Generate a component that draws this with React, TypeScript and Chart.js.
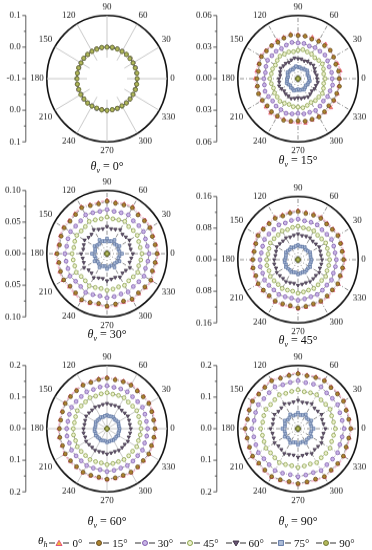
import React, { useEffect, useRef } from 'react';
import { Chart, registerables } from 'chart.js';
Chart.register(...registerables);

const FONT = '"Liberation Serif", "Times New Roman", serif';

// measurement angles (deg)
const ANGLES = [0,10,20,30,40,50,60,70,80,90,100,110,120,130,140,150,160,170,180,190,200,210,220,230,240,250,260,270,280,290,300,310,320,330,340,350];
const SERIES_LABELS = ['0°','15°','30°','45°','60°','75°','90°'];
const PANEL_TITLES = ['0°','15°','30°','45°','60°','90°'];
const R_MIN = [-0.1, 0, 0, 0, 0, 0];
const R_MAX = [0.1, 0.06, 0.1, 0.16, 0.2, 0.2];
const AXIS_P1 = ['0.1','0.0','-0.1','0.0','0.1'];
const AXIS_P2 = ['0.06','0.03','0.00','0.03','0.06'];
const AXIS_P3 = ['0.10','0.05','0.00','0.05','0.10'];
const AXIS_P4 = ['0.16','0.08','0.00','0.08','0.16'];
const AXIS_P5 = ['0.2','0.1','0.0','0.1','0.2'];
const AXIS_P6 = ['0.2','0.1','0.0','0.1','0.2'];

// θv = 0°
const P1_H0 = [0.001,0.000,0.000,0.001,0.000,-0.001,0.000,0.001,0.000,0.000,-0.001,0.000,0.001,0.000,0.000,-0.001,0.000,0.001,0.000,0.000,0.001,0.000,-0.001,0.000,0.000,0.001,0.000,0.000,0.001,0.000,-0.001,0.000,0.000,0.001,0.000,0.000];
const P1_H15 = [0.000,0.001,0.000,0.000,0.001,0.000,-0.001,0.000,0.001,0.000,0.000,0.001,0.000,-0.001,0.000,0.000,0.001,0.000,0.001,0.000,0.000,-0.001,0.000,0.001,0.000,0.000,-0.001,0.001,0.000,0.000,0.000,0.001,0.000,0.000,-0.001,0.000];
const P1_H30 = [0.000,0.000,0.001,0.000,-0.001,0.000,0.001,0.000,0.000,0.001,0.000,-0.001,0.000,0.001,0.000,0.000,-0.001,0.000,0.000,0.001,0.000,0.000,0.001,0.000,-0.001,0.000,0.001,0.000,0.000,0.001,0.000,-0.001,0.000,0.000,0.001,0.000];
const P1_H45 = [0.001,0.000,-0.001,0.000,0.000,0.001,0.000,0.000,-0.001,0.000,0.001,0.000,0.000,0.001,0.000,-0.001,0.000,0.000,0.001,0.000,-0.001,0.000,0.000,0.001,0.000,0.000,0.001,0.000,-0.001,0.000,0.001,0.000,0.000,-0.001,0.000,0.001];
const P1_H60 = [0.000,-0.001,0.000,0.001,0.000,0.000,0.001,0.000,-0.001,0.000,0.000,0.001,0.000,0.000,0.001,0.000,-0.001,0.000,0.000,0.001,0.000,0.000,-0.001,0.000,0.001,0.000,0.000,0.001,0.000,-0.001,0.000,0.000,0.001,0.000,0.000,-0.001];
const P1_H75 = [0.000,0.000,0.001,0.000,0.000,-0.001,0.000,0.001,0.000,-0.001,0.000,0.000,0.001,0.000,0.000,0.001,0.000,-0.001,0.000,0.000,0.001,0.000,0.000,-0.001,0.000,0.001,0.000,0.000,0.000,0.001,0.000,0.000,-0.001,0.000,0.001,0.000];
const P1_H90 = [0.000,0.001,0.000,0.000,-0.001,0.000,0.000,0.000,0.001,0.000,0.000,-0.001,0.000,0.000,0.001,0.000,0.000,0.000,-0.001,0.000,0.000,0.001,0.000,0.000,0.000,-0.001,0.000,0.001,0.000,0.000,-0.001,0.000,0.000,0.000,0.001,0.000];
// θv = 15°
const P2_H0 = [0.042,0.043,0.042,0.041,0.042,0.043,0.042,0.042,0.041,0.042,0.043,0.042,0.042,0.041,0.042,0.043,0.042,0.042,0.043,0.042,0.041,0.042,0.042,0.043,0.042,0.041,0.042,0.042,0.043,0.042,0.041,0.042,0.043,0.042,0.042,0.041];
const P2_H15 = [0.041,0.041,0.040,0.041,0.042,0.041,0.041,0.040,0.041,0.041,0.042,0.041,0.040,0.041,0.041,0.042,0.041,0.040,0.041,0.041,0.042,0.041,0.040,0.041,0.041,0.042,0.041,0.040,0.041,0.041,0.042,0.041,0.040,0.041,0.041,0.042];
const P2_H30 = [0.034,0.034,0.033,0.034,0.035,0.034,0.034,0.033,0.034,0.034,0.035,0.034,0.033,0.034,0.034,0.035,0.034,0.033,0.034,0.034,0.035,0.034,0.033,0.034,0.034,0.035,0.034,0.033,0.034,0.034,0.035,0.034,0.033,0.034,0.034,0.035];
const P2_H45 = [0.027,0.026,0.027,0.028,0.027,0.026,0.027,0.027,0.028,0.027,0.026,0.027,0.027,0.028,0.027,0.026,0.027,0.027,0.028,0.027,0.026,0.027,0.027,0.028,0.027,0.026,0.027,0.027,0.028,0.027,0.026,0.027,0.027,0.028,0.027,0.026];
const P2_H60 = [0.019,0.019,0.018,0.019,0.020,0.019,0.019,0.018,0.019,0.019,0.020,0.019,0.018,0.019,0.019,0.020,0.019,0.018,0.019,0.019,0.020,0.019,0.018,0.019,0.019,0.020,0.019,0.018,0.019,0.019,0.020,0.019,0.018,0.019,0.019,0.020];
const P2_H75 = [0.011,0.011,0.010,0.011,0.012,0.011,0.011,0.010,0.011,0.011,0.012,0.011,0.010,0.011,0.011,0.012,0.011,0.010,0.011,0.011,0.012,0.011,0.010,0.011,0.011,0.012,0.011,0.010,0.011,0.011,0.012,0.011,0.010,0.011,0.011,0.012];
const P2_H90 = [0,0,0,0,0,0,0,0,0,0,0,0,0,0,0,0,0,0,0,0,0,0,0,0,0,0,0,0,0,0,0,0,0,0,0,0];
// θv = 30°
const P3_H0 = [0.085,0.083,0.082,0.084,0.083,0.082,0.086,0.084,0.083,0.085,0.082,0.083,0.086,0.083,0.082,0.084,0.083,0.082,0.085,0.083,0.084,0.085,0.082,0.083,0.086,0.084,0.082,0.085,0.083,0.082,0.085,0.083,0.084,0.086,0.082,0.083];
const P3_H15 = [0.083,0.081,0.080,0.082,0.081,0.080,0.084,0.082,0.081,0.083,0.080,0.081,0.084,0.081,0.080,0.082,0.081,0.080,0.083,0.081,0.082,0.083,0.080,0.081,0.084,0.082,0.080,0.083,0.081,0.080,0.083,0.081,0.082,0.084,0.080,0.081];
const P3_H30 = [0.070,0.068,0.068,0.070,0.069,0.068,0.071,0.069,0.068,0.070,0.068,0.069,0.071,0.068,0.068,0.070,0.069,0.068,0.070,0.069,0.069,0.071,0.068,0.068,0.071,0.069,0.068,0.070,0.069,0.068,0.070,0.068,0.069,0.071,0.068,0.069];
const P3_H45 = [0.058,0.056,0.056,0.058,0.057,0.056,0.059,0.057,0.056,0.058,0.056,0.057,0.059,0.056,0.056,0.058,0.057,0.056,0.058,0.057,0.057,0.059,0.056,0.056,0.059,0.057,0.056,0.058,0.057,0.056,0.058,0.056,0.057,0.059,0.056,0.057];
const P3_H60 = [0.043,0.040,0.040,0.043,0.041,0.040,0.044,0.041,0.040,0.043,0.040,0.041,0.044,0.040,0.040,0.043,0.041,0.040,0.043,0.041,0.041,0.044,0.040,0.040,0.044,0.041,0.040,0.043,0.041,0.040,0.043,0.040,0.041,0.044,0.040,0.041];
const P3_H75 = [0.025,0.021,0.020,0.024,0.021,0.020,0.025,0.021,0.020,0.024,0.020,0.021,0.025,0.020,0.021,0.024,0.021,0.020,0.025,0.021,0.020,0.024,0.020,0.021,0.025,0.021,0.020,0.024,0.021,0.020,0.025,0.020,0.021,0.024,0.020,0.021];
const P3_H90 = [0,0,0,0,0,0,0,0,0,0,0,0,0,0,0,0,0,0,0,0,0,0,0,0,0,0,0,0,0,0,0,0,0,0,0,0];
// θv = 45°
const P4_H0 = [0.124,0.122,0.123,0.125,0.122,0.121,0.124,0.123,0.122,0.125,0.123,0.121,0.124,0.122,0.123,0.125,0.122,0.121,0.123,0.124,0.122,0.125,0.123,0.122,0.124,0.122,0.121,0.125,0.123,0.122,0.124,0.123,0.122,0.125,0.122,0.123];
const P4_H15 = [0.121,0.119,0.120,0.122,0.119,0.118,0.121,0.120,0.119,0.122,0.120,0.118,0.121,0.119,0.120,0.122,0.119,0.118,0.120,0.121,0.119,0.122,0.120,0.119,0.121,0.119,0.118,0.122,0.120,0.119,0.121,0.120,0.119,0.122,0.119,0.120];
const P4_H30 = [0.102,0.100,0.101,0.103,0.100,0.099,0.102,0.101,0.100,0.103,0.101,0.099,0.102,0.100,0.101,0.103,0.100,0.099,0.101,0.102,0.100,0.103,0.101,0.100,0.102,0.100,0.099,0.103,0.101,0.100,0.102,0.101,0.100,0.103,0.100,0.101];
const P4_H45 = [0.084,0.082,0.083,0.085,0.082,0.081,0.084,0.083,0.082,0.085,0.083,0.081,0.084,0.082,0.083,0.085,0.082,0.081,0.083,0.084,0.082,0.085,0.083,0.082,0.084,0.082,0.081,0.085,0.083,0.082,0.084,0.083,0.082,0.085,0.082,0.083];
const P4_H60 = [0.064,0.062,0.063,0.065,0.062,0.061,0.064,0.063,0.062,0.065,0.063,0.061,0.064,0.062,0.063,0.065,0.062,0.061,0.063,0.064,0.062,0.065,0.063,0.062,0.064,0.062,0.061,0.065,0.063,0.062,0.064,0.063,0.062,0.065,0.062,0.063];
const P4_H75 = [0.036,0.034,0.035,0.037,0.034,0.033,0.036,0.035,0.034,0.037,0.035,0.033,0.036,0.034,0.035,0.037,0.034,0.033,0.035,0.036,0.034,0.037,0.035,0.034,0.036,0.034,0.033,0.037,0.035,0.034,0.036,0.035,0.034,0.037,0.034,0.035];
const P4_H90 = [0,0,0,0,0,0,0,0,0,0,0,0,0,0,0,0,0,0,0,0,0,0,0,0,0,0,0,0,0,0,0,0,0,0,0,0];
// θv = 60°
const P5_H0 = [0.162,0.160,0.161,0.163,0.160,0.159,0.162,0.161,0.160,0.163,0.161,0.159,0.162,0.160,0.161,0.163,0.160,0.159,0.161,0.162,0.160,0.163,0.161,0.160,0.162,0.160,0.159,0.163,0.161,0.160,0.162,0.161,0.160,0.163,0.160,0.161];
const P5_H15 = [0.159,0.157,0.158,0.160,0.157,0.156,0.159,0.158,0.157,0.160,0.158,0.156,0.159,0.157,0.158,0.160,0.157,0.156,0.158,0.159,0.157,0.160,0.158,0.157,0.159,0.157,0.156,0.160,0.158,0.157,0.159,0.158,0.157,0.160,0.157,0.158];
const P5_H30 = [0.135,0.133,0.134,0.136,0.133,0.132,0.135,0.134,0.133,0.136,0.134,0.132,0.135,0.133,0.134,0.136,0.133,0.132,0.134,0.135,0.133,0.136,0.134,0.133,0.135,0.133,0.132,0.136,0.134,0.133,0.135,0.134,0.133,0.136,0.133,0.134];
const P5_H45 = [0.113,0.111,0.112,0.114,0.111,0.110,0.113,0.112,0.111,0.114,0.112,0.110,0.113,0.111,0.112,0.114,0.111,0.110,0.112,0.113,0.111,0.114,0.112,0.111,0.113,0.111,0.110,0.114,0.112,0.111,0.113,0.112,0.111,0.114,0.111,0.112];
const P5_H60 = [0.079,0.077,0.078,0.080,0.077,0.076,0.079,0.078,0.077,0.080,0.078,0.076,0.079,0.077,0.078,0.080,0.077,0.076,0.078,0.079,0.077,0.080,0.078,0.077,0.079,0.077,0.076,0.080,0.078,0.077,0.079,0.078,0.077,0.080,0.077,0.078];
const P5_H75 = [0.042,0.040,0.041,0.043,0.040,0.039,0.042,0.041,0.040,0.043,0.041,0.039,0.042,0.040,0.041,0.043,0.040,0.039,0.041,0.042,0.040,0.043,0.041,0.040,0.042,0.040,0.039,0.043,0.041,0.040,0.042,0.041,0.040,0.043,0.040,0.041];
const P5_H90 = [0,0,0,0,0,0,0,0,0,0,0,0,0,0,0,0,0,0,0,0,0,0,0,0,0,0,0,0,0,0,0,0,0,0,0,0];
// θv = 90°
const P6_H0 = [0.178,0.174,0.173,0.177,0.174,0.173,0.178,0.175,0.173,0.177,0.174,0.173,0.178,0.174,0.173,0.177,0.175,0.173,0.178,0.174,0.174,0.177,0.173,0.174,0.178,0.175,0.173,0.177,0.174,0.173,0.178,0.174,0.175,0.177,0.173,0.174];
const P6_H15 = [0.175,0.171,0.170,0.174,0.171,0.170,0.175,0.172,0.170,0.174,0.171,0.170,0.175,0.171,0.170,0.174,0.172,0.170,0.175,0.171,0.171,0.174,0.170,0.171,0.175,0.172,0.170,0.174,0.171,0.170,0.175,0.171,0.172,0.174,0.170,0.171];
const P6_H30 = [0.153,0.149,0.148,0.152,0.149,0.148,0.153,0.150,0.148,0.152,0.149,0.148,0.153,0.149,0.148,0.152,0.150,0.148,0.153,0.149,0.149,0.152,0.148,0.149,0.153,0.150,0.148,0.152,0.149,0.148,0.153,0.149,0.150,0.152,0.148,0.149];
const P6_H45 = [0.124,0.120,0.119,0.123,0.120,0.119,0.124,0.121,0.119,0.123,0.120,0.119,0.124,0.120,0.119,0.123,0.121,0.119,0.124,0.120,0.120,0.123,0.119,0.120,0.124,0.121,0.119,0.123,0.120,0.119,0.124,0.120,0.121,0.123,0.119,0.120];
const P6_H60 = [0.091,0.086,0.085,0.090,0.086,0.085,0.091,0.087,0.085,0.090,0.086,0.085,0.091,0.086,0.085,0.090,0.087,0.085,0.091,0.086,0.086,0.090,0.085,0.086,0.091,0.087,0.085,0.090,0.086,0.085,0.091,0.086,0.087,0.090,0.085,0.086];
const P6_H75 = [0.052,0.045,0.044,0.051,0.045,0.044,0.052,0.046,0.044,0.051,0.045,0.044,0.052,0.045,0.044,0.051,0.046,0.044,0.052,0.045,0.045,0.051,0.044,0.045,0.052,0.046,0.044,0.051,0.045,0.044,0.052,0.045,0.046,0.051,0.044,0.045];
const P6_H90 = [0,0,0,0,0,0,0,0,0,0,0,0,0,0,0,0,0,0,0,0,0,0,0,0,0,0,0,0,0,0,0,0,0,0,0,0];

const PANEL_DATA = [
  [P1_H0, P1_H15, P1_H30, P1_H45, P1_H60, P1_H75, P1_H90],
  [P2_H0, P2_H15, P2_H30, P2_H45, P2_H60, P2_H75, P2_H90],
  [P3_H0, P3_H15, P3_H30, P3_H45, P3_H60, P3_H75, P3_H90],
  [P4_H0, P4_H15, P4_H30, P4_H45, P4_H60, P4_H75, P4_H90],
  [P5_H0, P5_H15, P5_H30, P5_H45, P5_H60, P5_H75, P5_H90],
  [P6_H0, P6_H15, P6_H30, P6_H45, P6_H60, P6_H75, P6_H90],
];
const PANEL_AXIS = [AXIS_P1, AXIS_P2, AXIS_P3, AXIS_P4, AXIS_P5, AXIS_P6];

// styling (not data)
const STYLES = [
  { shape: 'triangle', rot: 0, bg: '#f2b53c', bd: '#e0457b', line: 'rgba(236,130,170,0.55)' },
  { shape: 'circle', rot: 0, bg: '#ad842f', bd: '#5e4418', line: '#555' },
  { shape: 'circle', rot: 0, bg: '#c9b6e6', bd: '#7a55ab', line: '#555' },
  { shape: 'circle', rot: 0, bg: '#eef2cf', bd: '#7f9a3c', line: '#555' },
  { shape: 'triangle', rot: 180, bg: '#6a5676', bd: '#3a3042', line: '#555' },
  { shape: 'rect', rot: 0, bg: '#adbdd8', bd: '#58709f', line: '#555' },
  { shape: 'circle', rot: 0, bg: '#b3b95a', bd: '#6a7130', line: '#555' },
];
const LIGHT_GRID = [true, false, false, false, true, false];
const CENTER_GAP = [20, 0, 0, 0, 0, 0];
const PANEL_POS = [
  { left: 0, top: 0 }, { left: 186, top: 0 },
  { left: 0, top: 175 }, { left: 186, top: 181 },
  { left: 0, top: 350 }, { left: 186, top: 350 },
];
const CW = 186, CH = 164, CSS_H = 172;

function leftAxisPlugin(labels: string[]) {
  return {
    id: 'leftAxis',
    afterDraw(chart: any) {
      const s = chart.scales.r;
      const ctx = chart.ctx;
      const x = s.xCenter - s.drawingArea - 21;
      const n = labels.length;
      const mid = (n - 1) / 2;
      const ys = labels.map((lb, k) => s.yCenter + (k < mid ? -1 : 1) * s.getDistanceFromCenterForValue(parseFloat(lb)));
      ctx.save();
      ctx.strokeStyle = '#333';
      ctx.lineWidth = 0.8;
      ctx.beginPath();
      ctx.moveTo(x, ys[0]);
      ctx.lineTo(x, ys[n - 1]);
      ys.forEach((y: number) => { ctx.moveTo(x - 3.5, y); ctx.lineTo(x, y); });
      for (let k = 0; k < n - 1; k++) {
        const ym = (ys[k] + ys[k + 1]) / 2;
        ctx.moveTo(x - 2, ym); ctx.lineTo(x, ym);
      }
      ctx.stroke();
      ctx.fillStyle = '#222';
      ctx.font = `9px ${FONT}`;
      ctx.textAlign = 'right';
      ctx.textBaseline = 'middle';
      labels.forEach((lb, k) => ctx.fillText(lb, x - 5, ys[k]));
      ctx.restore();
    },
  };
}

function buildConfig(p: number): any {
  const min = R_MIN[p], max = R_MAX[p];
  const order = ANGLES.map((a) => ANGLES.indexOf((450 - a) % 360));
  const labels = order.map((j) => String(ANGLES[j]));
  const datasets = PANEL_DATA[p].map((vals, s) => ({
    label: SERIES_LABELS[s],
    data: order.map((j) => vals[j]),
    pointStyle: STYLES[s].shape,
    pointRotation: STYLES[s].rot,
    pointRadius: 1.9,
    pointBorderWidth: 0.7,
    pointBackgroundColor: STYLES[s].bg,
    pointBorderColor: STYLES[s].bd,
    borderColor: STYLES[s].line,
    borderWidth: s === 0 ? 1.6 : 0.6,
    borderDash: [3, 1.5, 0.8, 1.5],
    backgroundColor: 'transparent',
    fill: false,
    order: 7 - s,
  }));
  const light = LIGHT_GRID[p];
  const gap = CENTER_GAP[p];
  const right = p % 2 === 1;
  return {
    type: 'radar',
    data: { labels, datasets },
    options: {
      animation: false,
      responsive: false,
      maintainAspectRatio: false,
      layout: { padding: { left: right ? 30 : 25, right: right ? 0 : 5, top: 2, bottom: 14 } },
      plugins: { legend: { display: false }, tooltip: { enabled: false } },
      elements: { line: { tension: 0 } },
      scales: {
        r: {
          min, max,
          startAngle: 0,
          ticks: { display: false, count: 2 },
          grid: {
            circular: true,
            color: (ctx: any) => (ctx.index === ctx.scale.ticks.length - 1 ? '#111' : 'rgba(0,0,0,0)'),
            lineWidth: (ctx: any) => (ctx.index === ctx.scale.ticks.length - 1 ? 1.6 : 0.01),
          },
          angleLines: {
            display: true,
            color: (ctx: any) => (ctx.label !== '' ? (light ? '#c9c9c9' : '#4a4a4a') : 'rgba(0,0,0,0)'),
            lineWidth: light ? 1 : 0.6,
            borderDash: light ? (gap ? [0, gap, 500] : []) : [4, 2, 1, 2],
          },
          pointLabels: {
            font: { family: FONT, size: 9 },
            color: '#222',
            padding: 3,
            callback: (label: string) => (Number(label) % 30 === 0 ? label : ''),
          },
        },
      },
    },
    plugins: [leftAxisPlugin(PANEL_AXIS[p])],
  };
}

function Panel({ p }: { p: number }) {
  const ref = useRef<HTMLCanvasElement>(null);
  useEffect(() => {
    const chart = new Chart(ref.current as HTMLCanvasElement, buildConfig(p));
    return () => chart.destroy();
  }, []);
  const pos = PANEL_POS[p];
  return (
    <canvas
      ref={ref}
      width={CW}
      height={CH}
      style={{ position: 'absolute', left: pos.left, top: pos.top, width: CW, height: CSS_H, display: 'block' }}
    />
  );
}

function Marker({ s }: { s: number }) {
  const st = STYLES[s];
  let shape: any;
  if (st.shape === 'circle') shape = <circle cx={10} cy={5} r={2.5} fill={st.bg} stroke={st.bd} strokeWidth={0.9} />;
  else if (st.shape === 'rect') shape = <rect x={7.6} y={2.6} width={4.8} height={4.8} fill={st.bg} stroke={st.bd} strokeWidth={0.9} />;
  else if (st.rot === 180) shape = <polygon points="7,3 13,3 10,8" fill={st.bg} stroke={st.bd} strokeWidth={0.9} />;
  else shape = <polygon points="7,7.5 13,7.5 10,2.3" fill={st.bg} stroke={st.bd} strokeWidth={0.9} />;
  return (
    <svg width={20} height={10} style={{ display: 'block' }}>
      <line x1={0} y1={5} x2={6} y2={5} stroke="#333" strokeWidth={1} />
      <line x1={14} y1={5} x2={20} y2={5} stroke="#333" strokeWidth={1} />
      {shape}
    </svg>
  );
}

export default function App() {
  const centers = [107, 298, 107, 298, 107, 298];
  const titleTops = [159, 153, 327, 333, 514, 514];
  return (
    <div style={{ position: 'fixed', left: 0, top: 0, width: 372, height: 550, background: '#fff', overflow: 'hidden' }}>
      {[0, 1, 2, 3, 4, 5].map((p) => (
        <Panel key={p} p={p} />
      ))}
      {PANEL_TITLES.map((t, p) => (
        <div
          key={'t' + p}
          style={{ position: 'absolute', left: centers[p] - 50, width: 100, top: titleTops[p], textAlign: 'center', fontFamily: FONT, fontSize: 12, lineHeight: '14px', color: '#111' }}
        >
          <i>θ</i><sub style={{ fontSize: 8, fontStyle: 'italic' }}>v</sub> = {t}
        </div>
      ))}
      <div style={{ position: 'absolute', left: 38, top: 533, display: 'flex', alignItems: 'center', fontFamily: FONT, fontSize: 11, color: '#111', lineHeight: '14px', whiteSpace: 'nowrap' }}>
        <span style={{ marginRight: 2 }}><i>θ</i><sub style={{ fontSize: 8, fontStyle: 'italic' }}>h</sub></span>
        {SERIES_LABELS.map((lb, s) => (
          <span key={lb} style={{ display: 'flex', alignItems: 'center', marginRight: 7 }}>
            <Marker s={s} />
            <span style={{ marginLeft: 3 }}>{lb}</span>
          </span>
        ))}
      </div>
    </div>
  );
}
